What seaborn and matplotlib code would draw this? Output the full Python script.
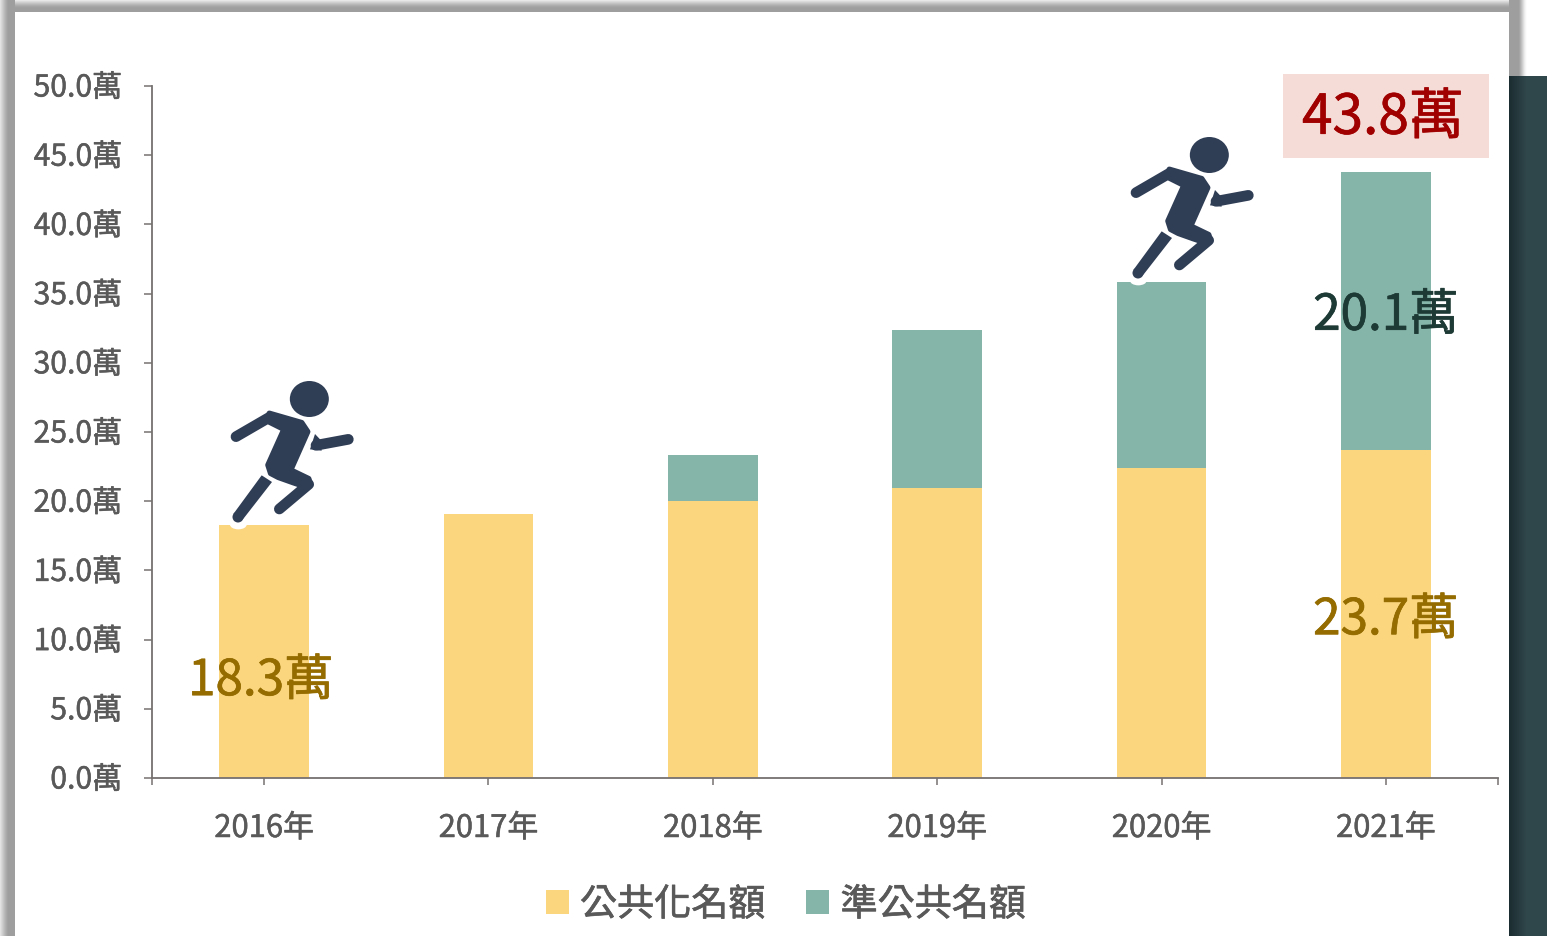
import numpy as np
import pandas as pd
import matplotlib
matplotlib.use("Agg")
import matplotlib.pyplot as plt
import matplotlib.patheffects as pe
from matplotlib.colors import LinearSegmentedColormap
from matplotlib.patches import Polygon, Ellipse, Rectangle
from matplotlib.transforms import ScaledTranslation
import seaborn as sns

years = ["2016年", "2017年", "2018年", "2019年", "2020年", "2021年"]
public_vals = [18.3, 19.1, 20.05, 20.95, 22.4, 23.7]
quasi_vals = [0, 0, 3.3, 11.45, 13.45, 20.1]
series_names = ["公共化名額", "準公共名額"]
y_ticks = [0, 5, 10, 15, 20, 25, 30, 35, 40, 45, 50]
annot_text = ["18.3萬", "23.7萬", "20.1萬", "43.8萬"]

W, H = 1555, 936
YELLOW, TEAL = "#FBD67F", "#85B5A9"
GRAY = "#595959"
AXC = "#767171"
RUN = "#2F3D55"

sns.set_theme(style="white")
plt.rcParams["font.family"] = ["Noto Sans CJK TC", "DejaVu Sans"]

fig = plt.figure(figsize=(W / 100, H / 100), dpi=100, facecolor="white")


def heavy(t, lw=0.35):
    t.set_path_effects([pe.withStroke(linewidth=lw, foreground=t.get_color())])
    return t


# ---- background frame
bg = fig.add_axes([0, 0, 1, 1], zorder=0)
bg.axis("off")
cm = LinearSegmentedColormap.from_list("s", ["#9E9E9E", "#FFFFFF"])
top_ramp = np.array([0.75, 0.62, 0.5, 0.38, 0.26, 0.16, 0.08, 0.03, 0, 0, 0, 0])
left_ramp = np.array([0.7, 0.6, 0.5, 0.4, 0.3, 0.2, 0.12, 0.05, 0, 0, 0, 0, 0, 0, 0])
right_ramp = np.array([0] * 10 + [0.08, 0.2, 0.35, 0.5, 0.65, 0.8, 0.9, 0.97, 1.0])
bg.imshow(top_ramp[:, None], extent=(0, 1519, 12, 0), cmap=cm, aspect="auto", vmin=0, vmax=1, interpolation="nearest")
bg.imshow(left_ramp[None, :], extent=(0, 15, H, 0), cmap=cm, aspect="auto", vmin=0, vmax=1, interpolation="nearest", zorder=2)
bg.imshow(right_ramp[None, :], extent=(1509, 1528, 76, 0), cmap=cm, aspect="auto", vmin=0, vmax=1, interpolation="nearest", zorder=2)
bg.add_patch(Rectangle((15, 12), 1494, H - 12, fc="white", ec="none", zorder=3))
cm2 = LinearSegmentedColormap.from_list("t", ["#1C2D31", "#2F464B"])
bg.imshow(np.clip(np.linspace(0, 2.2, 38), 0, 1)[None, :], extent=(1509, 1547, H, 76), cmap=cm2, aspect="auto", vmin=0, vmax=1, zorder=3)
bg.set_xlim(0, W); bg.set_ylim(H, 0)

# ---- chart
ax = fig.add_axes([152 / W, 1 - 778 / H, (1498 - 152) / W, (778 - 86) / H], zorder=2)
ax.patch.set_alpha(0)
df = pd.DataFrame({"year": years, "pub": public_vals, "quasi": quasi_vals})
sns.barplot(data=df, x="year", y="pub", color=YELLOW, saturation=1, width=0.4, ax=ax,
            label=series_names[0], linewidth=0)
sns.barplot(data=df, x="year", y="quasi", bottom=df["pub"], color=TEAL, saturation=1, width=0.4, ax=ax,
            label=series_names[1], linewidth=0)
ax.set_xlim(-0.5, 5.5)
ax.set_ylim(0, 50)
ax.set_xlabel(""); ax.set_ylabel("")
ax.set_yticks(y_ticks)
ax.set_yticklabels([f"{v:.1f}萬" for v in y_ticks], fontsize=21.7, color=GRAY)
ax.set_xticks(range(6))
ax.set_xticklabels(years, fontsize=22.3, color=GRAY)
ax.set_xticks([-0.5, 5.5], minor=True)
ax.tick_params(axis="y", length=5.8, width=1.1, color=AXC, pad=15.5, left=True)
ax.tick_params(axis="x", which="both", length=5.2, width=1.1, color=AXC, pad=20, bottom=True)
shift = ScaledTranslation(0, 1.5 / 100, fig.dpi_scale_trans)
for lab in ax.get_yticklabels():
    lab.set_transform(lab.get_transform() + shift)
    heavy(lab)
for lab in ax.get_xticklabels():
    heavy(lab)
for s in ["top", "right"]:
    ax.spines[s].set_visible(False)
for s in ["left", "bottom"]:
    ax.spines[s].set_color(AXC)
    ax.spines[s].set_linewidth(1.3)

heavy(ax.text(-0.015, 7.0, annot_text[0], fontsize=35.6, color="#946C00", ha="center", va="center"), 0.5)
heavy(ax.text(5, 11.4, annot_text[1], fontsize=35.6, color="#946C00", ha="center", va="center"), 0.5)
heavy(ax.text(5, 33.4, annot_text[2], fontsize=35.6, color="#1E3A35", ha="center", va="center"), 0.5)

leg = ax.legend(loc="center", bbox_to_anchor=(786 / W, 1 - 905 / H), bbox_transform=fig.transFigure,
                ncol=2, frameon=False, fontsize=26.7, labelcolor=GRAY,
                handlelength=0.62, handleheight=0.62, handletextpad=0.30, columnspacing=1.1,
                borderpad=0, borderaxespad=0)
for t in leg.get_texts():
    heavy(t, 0.5)

# ---- overlay: highlight box and runners
ov = fig.add_axes([0, 0, 1, 1], zorder=5)
ov.set_xlim(0, W); ov.set_ylim(H, 0); ov.axis("off"); ov.patch.set_alpha(0)
ov.add_patch(Rectangle((1283, 74), 206, 84, fc="#F6DCD6", ec="none"))
heavy(ov.text(1383, 118, annot_text[3], fontsize=39.6, color="#A00000", ha="center", va="center"), 0.5)


def runner(dx, dy):
    def m(pts):
        return [(210 + x / 3 + dx, 370 + y / 3 + dy) for x, y in pts]

    def stroke(pts, w, cap="round", color=RUN):
        xy = np.array(m(pts))
        ov.plot(xy[:, 0], xy[:, 1], color=color, lw=w / 3 * 0.72, solid_capstyle=cap,
                solid_joinstyle="round")

    ov.add_patch(Ellipse(m([(85, 464)])[0], 50 / 3, 28 / 3, fc="white", ec="none"))
    cx, cy = m([(298, 87)])[0]
    ov.add_patch(Ellipse((cx, cy), 39, 36, fc=RUN, ec="none"))
    stroke([(318, 226), (415, 208)], 32)
    ov.add_patch(Polygon(m([(315, 192), (332, 210), (335, 242), (300, 238)]), closed=True, fc=RUN, ec="none"))
    ov.add_patch(Polygon(m([(155, 316), (186, 336), (98, 449), (70, 432)]), closed=True, fc=RUN, ec="none"))
    ov.add_patch(Ellipse(m([(84, 441)])[0], 11, 11, fc=RUN, ec="none"))
    torso = [(178, 130), (275, 158), (293, 185), (242, 300), (296, 326), (302, 345), (292, 352),
             (250, 338), (205, 322), (182, 310), (174, 285), (222, 178), (178, 156)]
    ov.add_patch(Polygon(m(torso), closed=True, fc="white", ec="white", lw=6.5, joinstyle="round"))
    ov.add_patch(Polygon(m(torso), closed=True, fc=RUN, ec=RUN, lw=4, joinstyle="round"))
    stroke([(78, 200), (178, 142)], 32)
    stroke([(296, 343), (208, 417)], 32)


runner(0, 0)
runner(900, -244)

fig.savefig("out.png", dpi=100)
